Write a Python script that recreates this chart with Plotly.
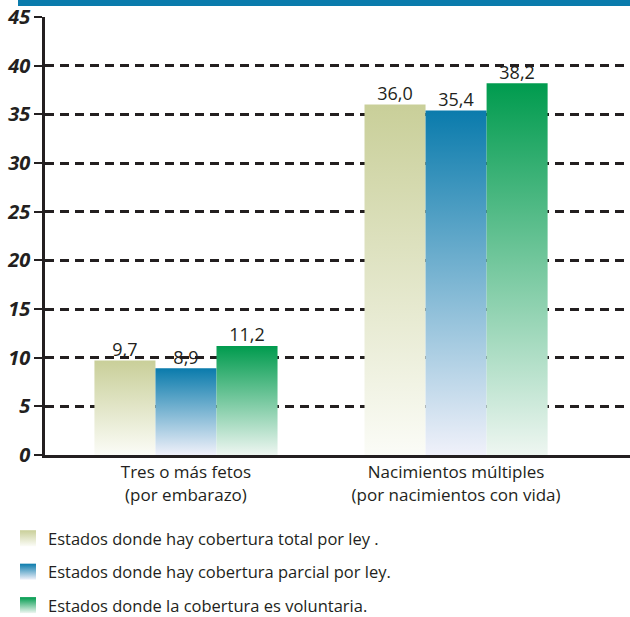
import plotly.graph_objects as go

# --- data ---------------------------------------------------------------
categories = [
    "Tres o más fetos<br>(por embarazo)",
    "Nacimientos múltiples<br>(por nacimientos con vida)",
]
series_names = [
    "Estados donde hay cobertura total por ley .",
    "Estados donde hay cobertura parcial por ley.",
    "Estados donde la cobertura es voluntaria.",
]
cobertura_total = [9.7, 36.0]
cobertura_parcial = [8.9, 35.4]
cobertura_voluntaria = [11.2, 38.2]
y_ticks = [0, 5, 10, 15, 20, 25, 30, 35, 40, 45]

# --- styling ------------------------------------------------------------
series_values = [cobertura_total, cobertura_parcial, cobertura_voluntaria]
top_colors = ["#c9cf99", "#0a7bac", "#009b4e"]
bottom_colors = ["#fbfcf7", "#f0f1fa", "#eef6f1"]
INK = "#231f20"
FONT = "Open Sans"
BAR_W = 0.226  # width of one bar in category units

fig = go.Figure()
cat_pos = list(range(len(categories)))

for i, (name, vals) in enumerate(zip(series_names, series_values)):
    offset = (i - 1) * BAR_W
    for j, v in enumerate(vals):
        xc = cat_pos[j] + offset
        x0, x1 = xc - BAR_W / 2, xc + BAR_W / 2
        # each bar is a filled rectangle with a vertical gradient
        fig.add_trace(go.Scatter(
            x=[x0, x1, x1, x0, x0],
            y=[0, 0, v, v, 0],
            mode="lines",
            fill="toself",
            line=dict(width=0, color=top_colors[i]),
            fillgradient=dict(
                type="vertical",
                colorscale=[[0, bottom_colors[i]], [1, top_colors[i]]],
            ),
            legendgroup=f"s{i}",
            showlegend=False,
            hoverinfo="skip",
        ))
    # value labels above the bars
    fig.add_trace(go.Scatter(
        x=[p + offset for p in cat_pos],
        y=vals,
        mode="text",
        text=[f"{v:.1f}".replace(".", ",") for v in vals],
        textposition="top center",
        textfont=dict(family=FONT, size=18, color=INK),
        legendgroup=f"s{i}",
        showlegend=False,
        hoverinfo="skip",
    ))
    # legend entry
    fig.add_trace(go.Scatter(
        x=[None], y=[None],
        mode="markers",
        name=name,
        marker=dict(
            symbol="square", size=16, color=top_colors[i],
            gradient=dict(type="vertical", color=bottom_colors[i]),
            line=dict(width=0),
        ),
        legendgroup=f"s{i}",
    ))

W, H = 630, 617
L, R, T, B = 45, 0, 17, 162
plot_h = H - T - B
plot_w = W - L - R

# blue band across the top
fig.add_shape(
    type="rect", xref="paper", yref="paper",
    x0=(18 - L) / plot_w, x1=1,
    y0=1 + (T - 6) / plot_h, y1=1 + T / plot_h,
    fillcolor="#0a7bac", line=dict(width=0), layer="above",
)

fig.update_layout(
    width=W, height=H,
    margin=dict(l=L, r=R, t=T, b=B, autoexpand=False),
    paper_bgcolor="white",
    plot_bgcolor="white",
    font=dict(family=FONT, color=INK),
    xaxis=dict(
        range=[-0.522, 1.644],
        tickvals=cat_pos,
        ticktext=categories,
        tickfont=dict(family=FONT, size=17, color=INK),
        showgrid=False, zeroline=False,
        showline=True, linecolor=INK, linewidth=3,
        ticks="",
        fixedrange=True,
    ),
    yaxis=dict(
        range=[0, 45],
        tickvals=y_ticks,
        ticktext=[str(t) for t in y_ticks],
        tickfont=dict(family=FONT, size=20, color=INK, weight="bold", style="italic"),
        showgrid=True, gridcolor=INK, gridwidth=2.5, griddash="9px,6px",
        zeroline=False,
        showline=True, linecolor=INK, linewidth=2.5,
        ticks="outside", ticklen=8, tickwidth=2, tickcolor=INK,
        ticklabelstandoff=0,
        fixedrange=True,
    ),
    legend=dict(
        x=(8 - L) / plot_w, xanchor="left",
        y=(455 - 521) / plot_h, yanchor="top",
        font=dict(family=FONT, size=16.5, color=INK),
        tracegroupgap=9,
        borderwidth=0,
        bgcolor="rgba(0,0,0,0)",
    ),
    showlegend=True,
)

fig.write_html("out.html")
